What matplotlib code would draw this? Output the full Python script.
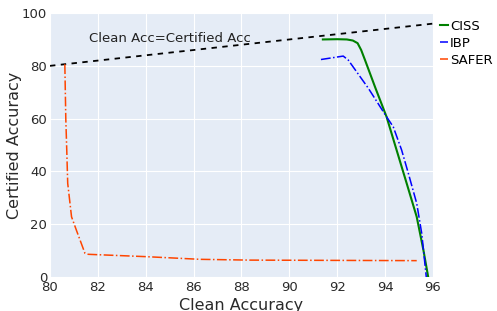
import matplotlib
matplotlib.use("Agg")
import matplotlib.pyplot as plt

# Data
ciss_x = [91.4, 92.0, 92.4, 92.65, 92.85, 93.0, 93.16, 93.6, 94.06, 94.48, 94.9, 95.32, 95.6, 95.8]
ciss_y = [90.0, 90.1, 90.0, 89.6, 88.6, 86.0, 82.2, 71.5, 60.7, 48.1, 35.5, 22.8, 10.2, 0.0]

ibp_x = [91.32, 92.25, 92.46, 93.3, 94.06, 94.34, 94.69, 94.97, 95.32, 95.53, 95.66, 95.72]
ibp_y = [82.4, 83.7, 82.2, 71.5, 60.7, 56.9, 48.1, 39.3, 27.9, 16.5, 5.2, 0.0]

safer_x = [80.62, 80.66, 80.7, 80.74, 80.9, 81.1, 81.46, 81.6, 84.04, 86.27, 88.35, 91.83, 95.32]
safer_y = [80.6, 60.0, 48.1, 35.5, 22.8, 17.8, 9.0, 8.6, 7.7, 6.7, 6.4, 6.3, 6.2]

diag = [80, 96]
x_ticks = [80, 82, 84, 86, 88, 90, 92, 94, 96]
y_ticks = [0, 20, 40, 60, 80, 100]

plt.rcParams['font.family'] = ['DejaVu Sans']
fig = plt.figure(figsize=(4.97, 3.11), dpi=100)
ax = fig.add_axes([0.1006, 0.1093, 0.7706, 0.8487])
ax.set_facecolor('#E5ECF6')
for s in ax.spines.values():
    s.set_visible(False)
ax.grid(True, color='white', linewidth=0.8)
ax.set_axisbelow(True)

ax.plot(diag, diag, color='black', linestyle=(0, (3, 3)), linewidth=1.3)
ax.plot(ciss_x, ciss_y, color='#008000', linewidth=1.5, label='CISS')
ax.plot(ibp_x, ibp_y, color='#0000FF', linestyle='-.', linewidth=1.1, label='IBP')
ax.plot(safer_x, safer_y, color='#FF4500', linestyle='-.', linewidth=1.1, label='SAFER')

ax.text(85.0, 90.5, 'Clean Acc=Certified Acc', fontsize=9.5, ha='center', va='center', color='#222222')

ax.set_xlim(80, 96)
ax.set_ylim(0, 100)
ax.set_xticks(x_ticks)
ax.set_yticks(y_ticks)
ax.tick_params(length=0, labelsize=9.5, colors='#2a2a2a', pad=2)
ax.tick_params(axis='x', pad=3)
ax.set_xlabel('Clean Accuracy', fontsize=11.5, color='#2a2a2a', labelpad=3)
ax.set_ylabel('Certified Accuracy', fontsize=11.5, color='#2a2a2a', labelpad=0)

ax.legend(loc='upper left', bbox_to_anchor=(1.008, 0.99), frameon=False, fontsize=9.5,
          handlelength=0.6, handletextpad=0.15, labelspacing=0.3, borderaxespad=0.0,
          borderpad=0.3)

fig.savefig('out.png', dpi=100)
